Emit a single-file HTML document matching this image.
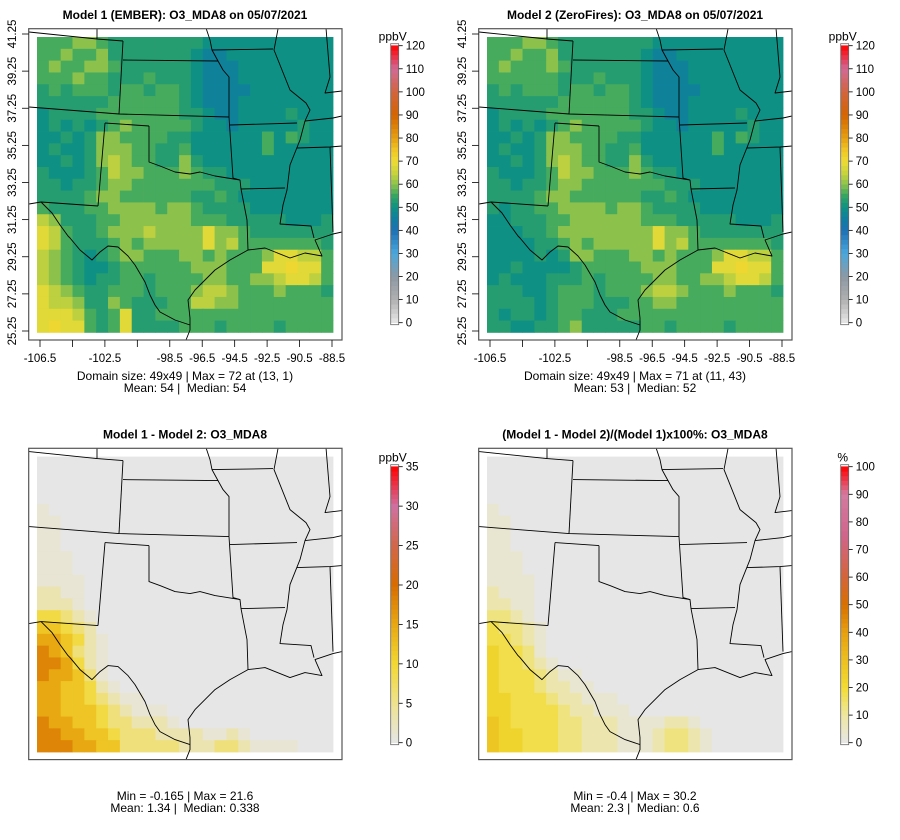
<!DOCTYPE html>
<html><head><meta charset="utf-8"><style>
html,body{margin:0;padding:0;background:#fff;}
svg{display:block;font-family:"Liberation Sans",sans-serif;}
text{white-space:pre;}
</style></head><body>
<svg id="fig" width="900" height="840" viewBox="0 0 900 840" xmlns="http://www.w3.org/2000/svg"></svg>
<script>
// ---- data (25x25 coarse grids, top row = north) ----
const modelLevelChars = "abcdefghi";
const modelLevelValues = [42,46,50,53,56,60,64,68,71];
const model1Rows = [
"eeeffeddddddddccccccccccc",
"eefeefdddddddcbbccccccccc",
"efeeffeddddddcbbbcccccccc",
"eeefeedddedddcbbbcccccccc",
"dedeeedeedeedcbbbbccccccc",
"ddddddeeeeeedcbbbcccccccc",
"cddddeeeeeeeddcbbccccdccc",
"cdcdcdefeeeeedccbcccccdcc",
"ccdcdffeeeeddccccccecedcc",
"cdccdfffeeddecccccceccccc",
"ccdcdfgfeeddfdccccccccccc",
"dcccdegffeeefeddccccccccc",
"ddcddeffeeeeeeedddccccccc",
"ddddeffeeeeeeddedcccccccc",
"edddeeffffeffeddddccccccc",
"gfdddeeffffffeeedddddcccd",
"hgeddefffgffffhffeddddddd",
"hgedddefefffffhfgeeeeeeed",
"gfedcdeffeeeffefeeefhhgge",
"gfedccdeeeeeefffeeehhihhe",
"gfedcddeedeeeeffeeffghhge",
"hgfeddeeedeeefggfeeefeeed",
"hggfddfedddeeggffeeeeeeee",
"hhhgedehddeeeeeeeeeeeeeee",
"hihhedehddddeeedeeeedeeee"
];
const model2Rows = [
"eeeffeddddddddccccccccccc",
"eefeefdddddddcbbccccccccc",
"efeeefeddddddcbbbcccccccc",
"eeeeeedddedddcbbbcccccccc",
"dedeeedeedeedcbbbbccccccc",
"ddddddeeeeeedcbbbcccccccc",
"cddddeeeeeeeddcbbccccdccc",
"cdcdcdefeeeeedccbcccccdcc",
"ccdcdffeeeeddccccccecedcc",
"cdccdfffeeddecccccceccccc",
"ccdcdfgfeeddfdccccccccccc",
"dcccdegffeeefeddccccccccc",
"ddcddeffeeeeeeedddccccccc",
"ddddeffeeeeeeddedcccccccc",
"dcddeeffffeffeddddccccccc",
"ccdddeeffffffeeedddddcccd",
"cccddeffffffffhffeddddddd",
"ccccddefefffffhfgeeeeeeed",
"ccccdcdffeeeffefeeefhhgge",
"ccdccccdeeeeefffeeehhihhe",
"cdcccdddedeeeeffeeffghhge",
"dddccdeeedeeefggfeeefeeed",
"ddddcdeeedddeeffeeeeeeeee",
"dcddcdeedddeeeeeeeeeeeeee",
"ddccddefdddddeedeeeedeeee"
];
const diffLevelValues = [0,1,3,6,9,12,15,18,21];
const diffRows = [
"0000000000000000000000000",
"0000000000000000000000000",
"0000000000000000000000000",
"0000000000000000000000000",
"1000000000000000000000000",
"1100000000000000000000000",
"1100000000000000000000000",
"1100000000000000000000000",
"1110000000000000000000000",
"1110000000000000000000000",
"1111000000000000000000000",
"2211000000000000000000000",
"2221000000000000000000000",
"4432100000000000000000000",
"5543200000000000000000000",
"6654210000000000000000000",
"7653210000000000000000000",
"7764210000000000000000000",
"7665310000000000000000000",
"6655421000000000000000000",
"6655432110000000000000000",
"6655543211100000000000000",
"7665543322210000000000000",
"7766554333222211210000000",
"7776655333332223321111000"
];
const pctLevelValues = [0,3,8,13,18,23,28,33,38];
const pctRows = [
"0000000000000000000000000",
"0000000000000000000000000",
"0000000000000000000000000",
"0000000000000000000000000",
"1000000000000000000000000",
"1100000000000000000000000",
"1100000000000000000000000",
"1100000000000000000000000",
"1110000000000000000000000",
"1110000000000000000000000",
"1111000000000000000000000",
"2111000000000000000000000",
"2211000000000000000000000",
"3321000000000000000000000",
"4332100000000000000000000",
"4432100000000000000000000",
"5443100000000000000000000",
"5443210000000000000000000",
"5444321100000000000000000",
"5444322110000000000000000",
"5544432211100000000000000",
"5544443221110000000000000",
"6544443322211112210000000",
"6554443322211123321000000",
"6554443322211123321000000"
];
const lonTicks = [-106.5,-104.5,-102.5,-100.5,-98.5,-96.5,-94.5,-92.5,-90.5,-88.5];
const lonTickLabels = ["-106.5","","-102.5","","-98.5","-96.5","-94.5","-92.5","-90.5","-88.5"];
const latTicks = [25.25,27.25,29.25,31.25,33.25,35.25,37.25,39.25,41.25];
const ppbTicks = [0,10,20,30,40,50,60,70,80,90,100,110,120];
const diffTicks = [0,5,10,15,20,25,30,35];
const pctTicks = [0,10,20,30,40,50,60,70,80,90,100];

const ppbStops = [[0,"#e8e8e8"],[10,"#b0b0b0"],[20,"#8c98a4"],[30,"#4aa8dc"],[40,"#1e70b4"],[45,"#0f7ea0"],[50,"#0e9184"],[55,"#36a562"],[60,"#8cc24c"],[65,"#c9d43c"],[70,"#efdc34"],[75,"#efc424"],[80,"#e6a012"],[90,"#d46400"],[100,"#d2643e"],[110,"#d06a96"],[120,"#ff0000"]];
const diffStops = [[0,"#e6e6e6"],[5,"#eee28e"],[10,"#f2d832"],[15,"#e8a812"],[20,"#d86c00"],[25,"#d2664a"],[30,"#d070a0"],[35,"#ff0000"]];
const pctStops = [[0,"#e6e6e6"],[10,"#eee6a0"],[20,"#f2dc34"],[30,"#ecc020"],[40,"#e6a010"],[50,"#d87000"],[60,"#d4643a"],[75,"#d0648a"],[90,"#d47aa0"],[100,"#ff0000"]];
function hex(c){return [parseInt(c.substr(1,2),16),parseInt(c.substr(3,2),16),parseInt(c.substr(5,2),16)];}
function cmap(stops,v){
  if(v<=stops[0][0])return stops[0][1];
  for(let i=1;i<stops.length;i++){
    if(v<=stops[i][0]){
      const a=stops[i-1],b=stops[i],t=(v-a[0])/(b[0]-a[0]);
      const ca=hex(a[1]),cb=hex(b[1]);
      return "rgb("+ca.map((x,k)=>Math.round(x+(cb[k]-x)*t)).join(",")+")";
    }
  }
  return stops[stops.length-1][1];
}

const outlines = [
[[29,32],[97,39],[123,41]],[[97,28],[97,39]],[[123,41],[119,114]],
[[123,60],[218,61],[223,70],[229,77],[229,117]],[[206,28],[210,40],[212,50],[218,61]],
[[212,50],[273,49]],[[29,107],[119,114],[229,117]],
[[105,123],[149,126]],[[105,123],[98,206]],
[[149,126],[149,162],[160,166],[175,172],[190,174],[200,172],[215,176],[240,180]],
[[229,117],[233,178],[240,180],[241,189],[247,220],[248,250]],
[[230,125],[297,123]],[[241,189],[285,188]],
[[278,29],[274,50],[282,70],[290,90],[306,103],[310,110],[305,121],[300,140],[290,165],[287,190],[283,205],[280,224],[311,226],[314,238]],
[[297,148],[330,147],[342,146]],[[330,147],[333,232]],[[305,121],[333,118],[342,116]],[[326,28],[330,77],[325,93],[342,91]],
[[248,250],[265,248],[275,252],[290,258],[305,253],[322,256],[315,240],[333,234],[342,232]],
[[248,250],[230,260],[215,270],[205,280],[195,290],[188,300],[190,318],[190,330],[186,340]],
[[29,204],[41,202],[98,206]],
[[41,202],[52,213],[60,225],[68,236],[70,238],[80,250],[92,260],[100,252],[108,246],[118,247],[128,256],[135,265],[145,282],[150,295],[155,305],[160,312],[175,320],[190,325]]
];

const svg=document.getElementById("fig");
const NS="http://www.w3.org/2000/svg";
function el(tag,attrs,parent){const e=document.createElementNS(NS,tag);for(const k in attrs)e.setAttribute(k,attrs[k]);(parent||svg).appendChild(e);return e;}
function txt(x,y,s,attrs,parent){const t=el("text",Object.assign({x:x,y:y},attrs),parent);t.textContent=s;return t;}

const panels=[
 {ox:0,dy:0,rows:model1Rows,chars:modelLevelChars,vals:modelLevelValues,stops:ppbStops,vmax:120,ticks:ppbTicks,unit:"ppbV",axes:true,
  title:"Model 1 (EMBER): O3_MDA8 on 05/07/2021",f1:"Domain size: 49x49 | Max = 72 at (13, 1)",f2:"Mean: 54 |  Median: 54",name:"model1"},
 {ox:450,dy:0,rows:model2Rows,chars:modelLevelChars,vals:modelLevelValues,stops:ppbStops,vmax:120,ticks:ppbTicks,unit:"ppbV",axes:true,
  title:"Model 2 (ZeroFires): O3_MDA8 on 05/07/2021",f1:"Domain size: 49x49 | Max = 71 at (11, 43)",f2:"Mean: 53 |  Median: 52",name:"model2"},
 {ox:0,dy:419.6,rows:diffRows,chars:"012345678",vals:diffLevelValues,stops:diffStops,vmax:35,ticks:diffTicks,unit:"ppbV",axes:false,
  title:"Model 1 - Model 2: O3_MDA8",f1:"Min = -0.165 | Max = 21.6",f2:"Mean: 1.34 |  Median: 0.338",name:"difference"},
 {ox:450,dy:419.6,rows:pctRows,chars:"012345678",vals:pctLevelValues,stops:pctStops,vmax:100,ticks:pctTicks,unit:"%",axes:false,
  title:"(Model 1 - Model 2)/(Model 1)x100%: O3_MDA8",f1:"Min = -0.4 | Max = 30.2",f2:"Mean: 2.3 |  Median: 0.6",name:"percent-difference"}
];

panels.forEach((p,pi)=>{
  const g=el("g",{});
  
  
  const bx=28.7+p.ox, by=28.7+p.dy, bw=313.3, bh=311.3;
  const ix=37+p.ox, iy=37+p.dy, iw=296, ih=295.4;
  const n=p.rows.length, m=p.rows[0].length;
  const cw=iw/m, ch=ih/n;
  const cells=el("g",{},g);
  
  
  for(let r=0;r<n;r++){
    for(let c=0;c<m;c++){
      const v=p.vals[p.chars.indexOf(p.rows[r][c])];
      const rc=el("rect",{x:(ix+c*cw).toFixed(2),y:(iy+r*ch).toFixed(2),width:(cw+0.4).toFixed(2),height:(ch+0.4).toFixed(2),fill:cmap(p.stops,v)},cells);
      
      
    }
  }
  const cid="clip"+pi;
  const cp=el("clipPath",{id:cid},g);
  el("rect",{x:bx,y:by,width:bw,height:bh},cp);
  const ol=el("g",{"clip-path":"url(#"+cid+")",fill:"none",stroke:"#000","stroke-width":"0.9","stroke-linejoin":"round"},g);
  
  
  outlines.forEach(l=>{
    el("polyline",{points:l.map(pt=>(pt[0]+p.ox)+","+(pt[1]+p.dy)).join(" ")},ol);
  });
  const box=el("rect",{x:bx,y:by,width:bw,height:bh,fill:"none",stroke:"#555","stroke-width":"1.2"},g);
  
  
  const t=txt(185+p.ox,19+p.dy,p.title,{"font-size":"12","font-weight":"bold","text-anchor":"middle",fill:"#000"},g);
  
  
  const f1=txt(185+p.ox,(p.axes?380:800),p.f1,{"font-size":"12","text-anchor":"middle",fill:"#000"},g);
  
  
  const f2=txt(185+p.ox,(p.axes?392:812),p.f2,{"font-size":"12","text-anchor":"middle",fill:"#000"},g);
  
  
  if(p.axes){
    const xa=el("g",{},g);
    
    
    const xs=lon=>40+p.ox+(lon+106.5)*(292/18);
    lonTicks.forEach((lon,i)=>{
      el("line",{x1:xs(lon),x2:xs(lon),y1:340,y2:347,stroke:"#000","stroke-width":"0.8"},xa);
      if(lonTickLabels[i]){
        const lt=txt(xs(lon),362,lonTickLabels[i],{"font-size":"11.5","text-anchor":"middle",fill:"#000"},xa);
        
        
      }
    });
    const ya=el("g",{},g);
    
    
    const ys=lat=>331-(lat-25.25)*(297/16);
    latTicks.forEach(lat=>{
      const yy=ys(lat);
      el("line",{x1:22+p.ox,x2:28.7+p.ox,y1:yy,y2:yy,stroke:"#000","stroke-width":"0.8"},ya);
      const lt=txt(0,0,lat.toFixed(2),{"font-size":"11.5","text-anchor":"middle",fill:"#000",transform:"translate("+(16+p.ox)+","+yy+") rotate(-90)"},ya);
      
      
    });
  }
  const cb=el("g",{},g);
  
  
  const cx=390.7+p.ox, cwid=8;
  const cbot=p.axes?322.7:742.7;
  const yTop=p.axes?45.7:466.7;
  const vs=v=>cbot-(v/p.vmax)*(cbot-yTop);
  const N=60;
  for(let i=0;i<N;i++){
    const v0=p.vmax*i/N, v1=p.vmax*(i+1)/N;
    el("rect",{x:cx,y:vs(v1)-0.3,width:cwid,height:(vs(v0)-vs(v1)+0.6),fill:cmap(p.stops,(v0+v1)/2)},cb);
  }
  el("rect",{x:cx,y:yTop-2,width:cwid,height:cbot-yTop+4,fill:"none",stroke:"#666","stroke-width":"0.8"},cb);
  p.ticks.forEach(v=>{
    el("line",{x1:cx+cwid,x2:cx+cwid+4,y1:vs(v),y2:vs(v),stroke:"#000","stroke-width":"0.8"},cb);
    const lt=txt(cx+cwid+7,vs(v)+4,String(v),{"font-size":"11.5",fill:"#000"},cb);
    
    
  });
  const ut=txt(cx+2,yTop-5,p.unit,{"font-size":"12","text-anchor":"middle",fill:"#000"},cb);
  
  
});
</script>
</body></html>
